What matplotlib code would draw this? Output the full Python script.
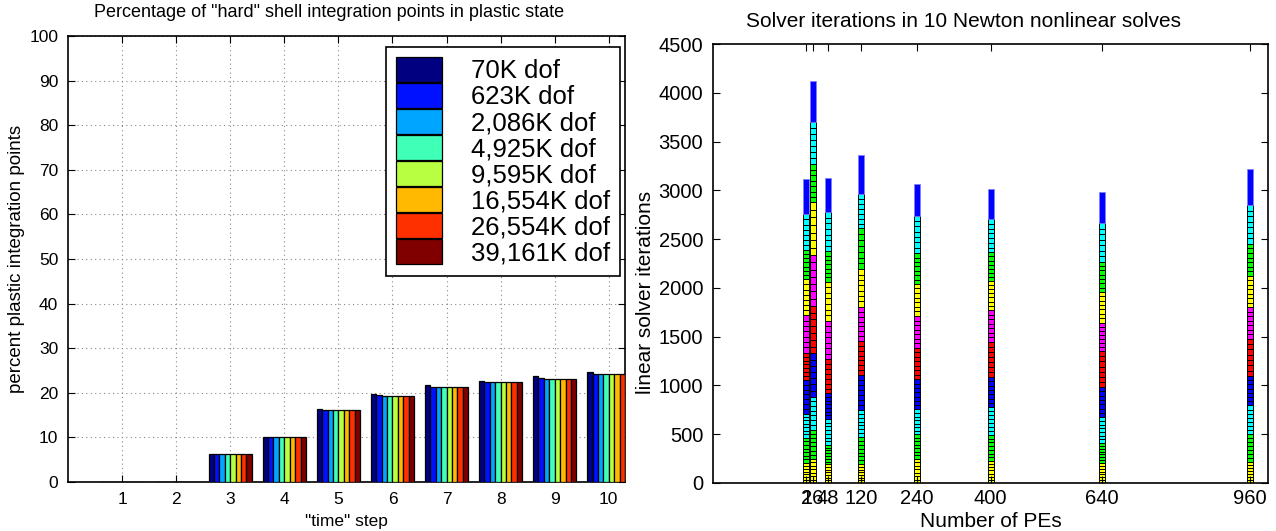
import numpy as np
import matplotlib
matplotlib.use("Agg")
import matplotlib.pyplot as plt

plt.rcParams['font.family'] = ['Liberation Sans', 'DejaVu Sans']
plt.rcParams['font.size'] = 11

# ---- left chart data: percent plastic points per time step, per mesh size
steps = [1, 2, 3, 4, 5, 6, 7, 8, 9, 10]
dof_labels = ['70K dof', '623K dof', '2,086K dof', '4,925K dof',
              '9,595K dof', '16,554K dof', '26,554K dof', '39,161K dof']
pct_70k   = [0.1, 0.1, 6.25, 10.05, 16.4, 19.75, 21.8, 22.75, 23.8, 24.7]
pct_623k  = [0.1, 0.1, 6.2, 10.0, 16.2, 19.45, 21.4, 22.4, 23.3, 24.3]
pct_2086k = [0.1, 0.1, 6.2, 10.0, 16.2, 19.3, 21.4, 22.4, 23.05, 24.3]
pct_4925k = [0.1, 0.1, 6.2, 10.0, 16.2, 19.3, 21.4, 22.4, 23.05, 24.3]
pct_9595k = [0.1, 0.1, 6.2, 10.0, 16.2, 19.3, 21.4, 22.4, 23.05, 24.3]
pct_16554k = [0.1, 0.1, 6.2, 10.0, 16.15, 19.3, 21.4, 22.4, 23.05, 24.3]
pct_26554k = [0.1, 0.1, 6.2, 10.0, 16.15, 19.3, 21.4, 22.4, 23.05, 24.3]
pct_39161k = [0.1, 0.1, 6.2, 10.0, 16.15, 19.3, 21.4, 22.4, 23.05, 24.3]
pct_all = [pct_70k, pct_623k, pct_2086k, pct_4925k, pct_9595k,
           pct_16554k, pct_26554k, pct_39161k]

# ---- right chart data: linear iterations in each of the 10 Newton solves
pes = [2, 16, 48, 120, 240, 400, 640, 960]
solve_iters = [
    [206, 257, 249, 343, 281, 383, 370, 301, 363, 364],
    [247, 301, 336, 445, 486, 521, 540, 391, 438, 418],
    [192, 198, 267, 261, 349, 397, 398, 315, 397, 349],
    [192, 281, 274, 363, 342, 356, 384, 417, 357, 397],
    [247, 253, 254, 308, 322, 328, 329, 315, 384, 328],
    [226, 267, 281, 315, 356, 329, 301, 288, 342, 309],
    [205, 206, 261, 314, 364, 294, 315, 308, 398, 321],
    [213, 287, 295, 301, 383, 323, 321, 329, 397, 371],
]
newton_steps = [7, 7, 7, 7, 7, 7, 7, 7, 7, 1]
solve_colors = [(1, 1, 0), (0, 1, 0), (0, 1, 1), (0, 0, 1), (1, 0, 0),
                (1, 0, 1), (1, 1, 0), (0, 1, 0), (0, 1, 1), (0, 0, 1)]

fig = plt.figure(figsize=(12.76, 5.31), dpi=100)

def matlab_box(ax, fs):
    for s in ax.spines.values():
        s.set_linewidth(1.2)
        s.set_color('black')
    ax.tick_params(direction='in', top=True, right=True, length=5,
                   labelsize=fs, width=0.8, pad=7)

# ---------------- left chart
ax1 = fig.add_axes([0.0533, 0.0923, 0.4365, 0.840])
colors = plt.cm.jet(np.linspace(0, 1, 8))
bw = 0.1
x = np.array(steps)
for i, vals in enumerate(pct_all):
    ax1.bar(x + (i - 3.5) * bw, vals, width=bw, color=colors[i],
            edgecolor='black', linewidth=0.9, label=dof_labels[i], zorder=3)
ax1.set_xlim(0, 10.3)
ax1.set_ylim(0, 100)
ax1.set_xticks(steps)
ax1.set_yticks(range(0, 101, 10))
ax1.grid(True, linestyle=(0, (1, 3)), color='#888888', linewidth=0.8)
ax1.set_axisbelow(True)
matlab_box(ax1, 12.5)
ax1.set_title('Percentage of "hard" shell integration points in plastic state',
              fontsize=13, pad=14, x=0.469)
ax1.set_xlabel('"time" step', fontsize=12.5, labelpad=5)
ax1.set_ylabel('percent plastic integration points', fontsize=13.5, labelpad=3)
leg = ax1.legend(loc='upper right', bbox_to_anchor=(0.991, 0.976),
                 borderaxespad=0, fontsize=18.5, fancybox=False,
                 edgecolor='black', framealpha=1, handlelength=1.8,
                 handleheight=1.1, labelspacing=0.0, handletextpad=1.1,
                 borderpad=0.4)
leg.get_frame().set_linewidth(1.2)

# ---------------- right chart
ax2 = fig.add_axes([0.5588, 0.0904, 0.435, 0.8267])
width = 13
for p, iters in zip(pes, solve_iters):
    bottom = 0
    for k, n in enumerate(iters):
        nb = newton_steps[k]
        if nb == 1:
            ax2.bar(p, n, width=width, bottom=bottom, color=solve_colors[k],
                    edgecolor='#8080ff', linewidth=0.6)
        else:
            sub = n / nb
            for j in range(nb):
                ax2.bar(p, sub, width=width, bottom=bottom + j * sub,
                        color=solve_colors[k], edgecolor='black',
                        linewidth=0.7)
        bottom += n
ax2.set_xlim(-200, 1000)
ax2.set_ylim(0, 4500)
ax2.set_xticks(pes)
ax2.set_yticks(range(0, 4501, 500))
matlab_box(ax2, 14.5)
ax2.tick_params(axis='x', pad=4)
ax2.set_title('Solver iterations in 10 Newton nonlinear solves',
              fontsize=15, pad=12, x=0.452)
ax2.set_xlabel('Number of PEs', fontsize=15, labelpad=3)
ax2.set_ylabel('linear solver iterations', fontsize=15)
ax2.yaxis.set_label_coords(-0.105, 0.435)

fig.savefig('out.png', dpi=100)
